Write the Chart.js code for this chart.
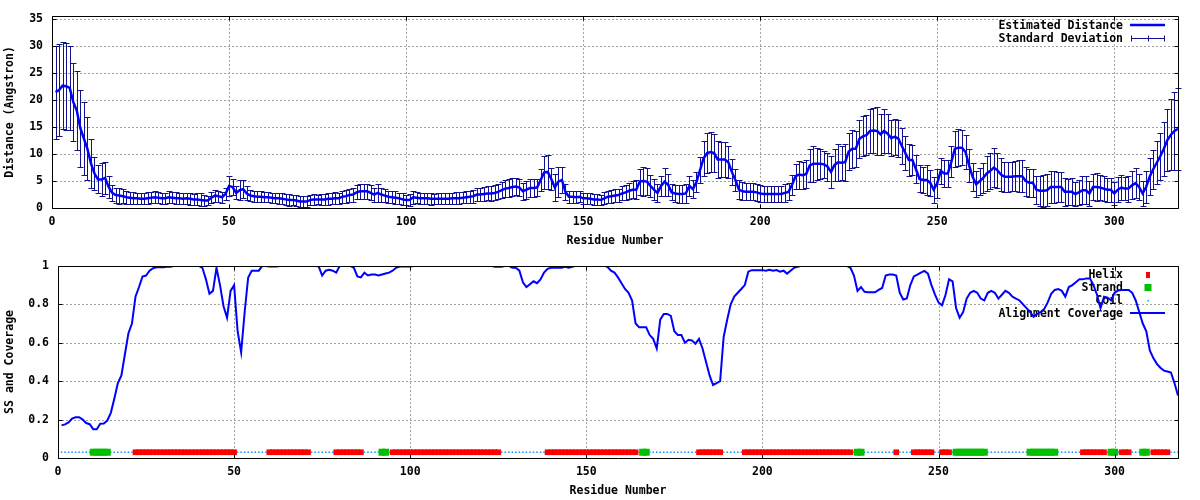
<!DOCTYPE html>
<html>
<head>
<meta charset="utf-8">
<script src="https://cdn.jsdelivr.net/npm/chart.js@4.4.1/dist/chart.umd.min.js"></script>
<style>
  html, body { margin: 0; padding: 0; background: #fff; }
  #wrap { position: relative; width: 1200px; height: 500px; }
  canvas { position: absolute; left: 0; }
  #top { top: 0; }
  #bottom { top: 250px; }
</style>
</head>
<body>
<div id="wrap">
  <canvas id="top" width="1200" height="250"></canvas>
  <canvas id="bottom" width="1200" height="250"></canvas>
</div>
<script>
// residue numbering starts at 1, one value per residue
const firstResidue = 1;

const distance = [
  21.5, 21.9, 22.7, 22.6, 22.3, 19.7, 18.1, 14.8, 12.9, 11.0,
  8.3, 6.4, 5.3, 5.3, 5.6, 3.9, 2.8, 2.4, 2.3, 2.2,
  2.0, 1.9, 1.8, 1.8, 1.7, 1.7, 1.8, 1.9, 2.0, 1.9,
  1.8, 1.8, 2.0, 1.9, 1.8, 1.8, 1.7, 1.8, 1.7, 1.6,
  1.6, 1.5, 1.4, 1.4, 1.9, 2.3, 2.2, 2.0, 2.6, 4.1,
  3.9, 2.8, 3.3, 3.5, 2.7, 2.3, 2.2, 2.1, 2.1, 2.0,
  2.0, 1.9, 1.8, 1.8, 1.7, 1.6, 1.5, 1.5, 1.4, 1.2,
  1.2, 1.2, 1.5, 1.6, 1.6, 1.6, 1.6, 1.7, 1.7, 1.8,
  1.8, 2.1, 2.2, 2.4, 2.5, 2.9, 3.1, 3.1, 3.1, 2.8,
  2.5, 2.8, 2.5, 2.3, 2.1, 2.0, 1.9, 1.8, 1.6, 1.5,
  1.5, 2.0, 1.9, 1.8, 1.8, 1.8, 1.7, 1.7, 1.7, 1.7,
  1.7, 1.7, 1.8, 1.8, 1.8, 1.9, 2.0, 2.1, 2.2, 2.5,
  2.5, 2.6, 2.7, 2.7, 2.8, 3.0, 3.3, 3.6, 3.7, 3.9,
  4.0, 3.8, 3.1, 3.4, 3.7, 3.7, 3.8, 5.2, 6.6, 6.7,
  5.4, 3.8, 4.9, 5.2, 3.0, 2.1, 2.1, 2.0, 2.1, 1.8,
  1.8, 1.7, 1.6, 1.6, 1.5, 1.8, 2.1, 2.2, 2.3, 2.4,
  2.7, 2.9, 3.2, 3.4, 3.4, 4.9, 5.0, 4.9, 4.1, 3.4,
  2.8, 4.1, 4.9, 4.3, 2.9, 2.7, 2.6, 2.6, 2.7, 4.1,
  3.5, 4.8, 7.0, 9.2, 10.2, 10.4, 10.2, 9.0, 9.0, 9.0,
  8.5, 6.7, 5.2, 3.4, 3.1, 3.0, 3.0, 3.0, 2.9, 2.7,
  2.6, 2.6, 2.6, 2.6, 2.6, 2.6, 2.8, 3.0, 4.3, 5.9,
  6.2, 6.1, 6.3, 7.9, 8.2, 8.2, 8.2, 8.1, 7.7, 6.7,
  8.0, 8.5, 8.4, 8.5, 10.5, 11.0, 11.0, 12.8, 13.3, 13.5,
  14.3, 14.4, 14.3, 13.7, 14.3, 13.8, 13.0, 13.2, 12.9, 11.5,
  10.2, 8.9, 8.9, 7.2, 5.4, 5.2, 5.2, 4.7, 3.4, 4.6,
  6.9, 6.4, 6.4, 8.6, 11.0, 11.2, 11.2, 10.4, 7.9, 5.8,
  4.4, 5.0, 5.6, 6.4, 6.9, 7.5, 7.0, 6.2, 5.8, 5.8,
  5.8, 5.9, 5.9, 5.9, 5.0, 4.7, 4.7, 3.4, 3.2, 3.2,
  3.3, 3.9, 3.9, 3.9, 3.9, 3.0, 3.0, 3.0, 2.6, 2.9,
  3.3, 3.3, 2.7, 3.9, 3.9, 3.8, 3.6, 3.4, 3.4, 2.7,
  3.4, 3.8, 3.6, 3.6, 4.2, 4.6, 3.9, 2.7, 3.9, 5.8,
  7.2, 8.4, 9.6, 11.0, 12.6, 13.6, 14.3, 14.7
];

const stdDev = [
  8.6, 8.5, 8.1, 8.1, 7.8, 7.3, 7.3, 7.1, 6.7, 5.8,
  4.5, 3.1, 2.6, 3.0, 3.0, 2.1, 1.5, 1.4, 1.5, 1.3,
  1.2, 1.1, 1.1, 1.0, 1.0, 1.0, 1.1, 1.0, 1.1, 1.0,
  1.0, 1.0, 1.1, 1.0, 1.1, 1.0, 1.0, 1.0, 1.1, 1.0,
  1.1, 1.2, 1.1, 0.9, 1.0, 1.1, 1.0, 1.0, 1.2, 1.8,
  1.5, 1.2, 1.9, 1.7, 1.3, 1.0, 1.0, 1.0, 1.0, 0.9,
  0.9, 0.9, 0.9, 1.0, 1.0, 1.0, 1.1, 0.9, 1.0, 1.0,
  1.1, 1.0, 1.0, 1.0, 0.9, 1.0, 1.0, 1.1, 1.0, 1.1,
  1.0, 1.1, 1.2, 1.2, 1.3, 1.3, 1.4, 1.4, 1.4, 1.4,
  1.3, 1.6, 1.3, 1.2, 1.1, 1.1, 1.2, 1.0, 1.1, 1.0,
  1.1, 1.2, 1.0, 1.0, 1.0, 1.0, 1.1, 0.9, 1.0, 1.0,
  1.0, 1.0, 1.0, 1.1, 1.1, 1.0, 1.1, 1.1, 1.2, 1.2,
  1.2, 1.3, 1.3, 1.4, 1.4, 1.4, 1.5, 1.6, 1.6, 1.6,
  1.5, 1.6, 1.6, 1.7, 1.7, 1.7, 1.6, 2.0, 3.0, 3.1,
  2.0, 2.5, 2.8, 2.4, 1.5, 1.1, 1.1, 1.1, 1.0, 1.0,
  1.0, 1.0, 1.0, 1.0, 1.0, 1.1, 1.1, 1.2, 1.2, 1.2,
  1.3, 1.4, 1.5, 1.6, 1.8, 2.4, 2.7, 2.5, 2.0, 2.0,
  1.7, 1.9, 2.6, 2.0, 1.5, 1.6, 1.6, 1.7, 1.7, 1.8,
  1.7, 1.8, 2.4, 3.2, 3.7, 3.7, 3.5, 3.4, 3.3, 3.3,
  3.0, 2.4, 2.0, 1.8, 1.7, 1.6, 1.6, 1.6, 1.6, 1.5,
  1.5, 1.5, 1.5, 1.4, 1.5, 1.5, 1.6, 1.6, 1.9, 2.3,
  2.6, 2.5, 2.6, 3.0, 3.3, 3.0, 2.8, 2.5, 2.6, 3.0,
  3.0, 3.4, 3.2, 3.4, 3.5, 3.5, 3.3, 3.6, 3.7, 3.7,
  4.0, 4.2, 4.5, 3.8, 4.0, 3.6, 3.4, 3.4, 3.4, 3.3,
  3.1, 2.9, 2.8, 2.6, 2.5, 2.5, 2.7, 2.4, 2.4, 2.7,
  2.4, 2.5, 2.5, 2.9, 3.3, 3.4, 3.3, 3.2, 3.0, 2.6,
  2.4, 2.5, 2.8, 3.2, 3.4, 3.6, 3.3, 3.0, 2.8, 2.8,
  2.7, 2.8, 3.0, 3.0, 2.7, 2.6, 2.6, 2.6, 2.8, 3.0,
  3.0, 3.0, 3.0, 2.8, 2.7, 2.6, 2.4, 2.5, 2.2, 2.3,
  2.6, 2.6, 2.4, 2.5, 2.6, 2.4, 2.3, 2.2, 2.2, 2.2,
  2.3, 2.3, 2.2, 2.4, 2.6, 2.8, 2.5, 2.4, 3.0, 3.4,
  3.6, 4.0, 4.4, 5.0, 5.8, 6.6, 7.3, 7.6
];

const coverage = [
  0.170, 0.175, 0.185, 0.205, 0.212, 0.212, 0.200, 0.182, 0.176, 0.150,
  0.150, 0.178, 0.180, 0.195, 0.235, 0.31, 0.39, 0.43, 0.54, 0.65,
  0.70, 0.84, 0.89, 0.945, 0.95, 0.975, 0.988, 0.993, 0.993, 0.993,
  0.995, 0.995, 1.0, 1.0, 1.0, 1.0, 1.0, 1.0, 1.0, 1.0,
  0.99, 0.93, 0.855, 0.87, 0.99, 0.90, 0.79, 0.73, 0.87, 0.90,
  0.66, 0.55, 0.76, 0.94, 0.975, 0.975, 0.975, 1.0, 1.0, 0.997,
  0.997, 0.997, 1.0, 1.0, 1.0, 1.0, 1.0, 1.0, 1.0, 1.0,
  1.0, 1.0, 1.0, 0.998, 0.95, 0.975, 0.98, 0.975, 0.965, 1.0,
  1.0, 1.0, 1.0, 0.99, 0.945, 0.94, 0.965, 0.95, 0.955, 0.955,
  0.95, 0.955, 0.96, 0.965, 0.975, 0.99, 0.997, 0.997, 0.997, 0.997,
  1.0, 1.0, 1.0, 1.0, 1.0, 1.0, 1.0, 1.0, 1.0, 1.0,
  1.0, 1.0, 1.0, 1.0, 1.0, 1.0, 1.0, 1.0, 1.0, 1.0,
  1.0, 1.0, 1.0, 0.995, 0.995, 0.995, 1.0, 1.0, 0.99, 0.99,
  0.975, 0.915, 0.89, 0.905, 0.92, 0.91, 0.93, 0.965, 0.985, 0.99,
  0.99, 0.99, 0.99, 0.995, 0.99, 0.995, 1.0, 1.0, 1.0, 1.0,
  1.0, 1.0, 1.0, 1.0, 1.0, 0.995, 0.975, 0.965, 0.94, 0.91,
  0.88, 0.86, 0.82, 0.70, 0.68, 0.68, 0.68, 0.64, 0.62, 0.57,
  0.72, 0.75, 0.75, 0.74, 0.66, 0.64, 0.64, 0.60, 0.615, 0.612,
  0.595, 0.62, 0.57, 0.50, 0.43, 0.38, 0.39, 0.40, 0.63, 0.72,
  0.80, 0.84, 0.86, 0.88, 0.90, 0.97, 0.978, 0.978, 0.978, 0.978,
  0.975, 0.98, 0.975, 0.978, 0.97, 0.975, 0.96, 0.975, 0.99, 0.995,
  1.0, 1.0, 1.0, 1.0, 1.0, 1.0, 1.0, 1.0, 1.0, 1.0,
  1.0, 1.0, 1.0, 1.0, 0.99, 0.95, 0.87, 0.89, 0.865, 0.863,
  0.863, 0.863, 0.875, 0.885, 0.95, 0.955, 0.955, 0.95, 0.86, 0.825,
  0.83, 0.90, 0.945, 0.955, 0.965, 0.974, 0.96, 0.90, 0.85, 0.81,
  0.795, 0.85, 0.93, 0.92, 0.78, 0.73, 0.76, 0.83, 0.86, 0.87,
  0.86, 0.83, 0.82, 0.86, 0.87, 0.86, 0.83, 0.85, 0.87, 0.86,
  0.84, 0.83, 0.82, 0.80, 0.78, 0.76, 0.735, 0.75, 0.76, 0.775,
  0.81, 0.855, 0.875, 0.88, 0.87, 0.84, 0.89, 0.90, 0.915, 0.93,
  0.93, 0.935, 0.935, 0.90, 0.85, 0.78, 0.84, 0.835, 0.82, 0.86,
  0.872, 0.875, 0.875, 0.875, 0.86, 0.82, 0.76, 0.70, 0.66, 0.56,
  0.52, 0.49, 0.47, 0.455, 0.45, 0.445, 0.39, 0.325
];

// secondary structure, run-length: [type, count]  H helix, E strand, C coil
const ssRuns = [
  ['C', 9], ['E', 5], ['C', 7], ['H', 29], ['C', 9], ['H', 12], ['C', 7], ['H', 8],
  ['C', 5], ['E', 2], ['C', 1], ['H', 31], ['C', 13], ['H', 26], ['C', 1], ['E', 2],
  ['C', 14], ['H', 7], ['C', 6], ['H', 31], ['C', 1], ['E', 2], ['C', 9], ['H', 1],
  ['C', 4], ['H', 6], ['C', 2], ['H', 3], ['C', 1], ['E', 9], ['C', 12], ['E', 8],
  ['C', 7], ['H', 7], ['C', 1], ['E', 2], ['C', 1], ['H', 3], ['C', 3], ['E', 2],
  ['C', 1], ['H', 5], ['C', 3]
];
const ssLevel = 0.03;

const xMax = 318;
const distMax = 35.66;

const FONT = { family: "'DejaVu Sans Mono', 'Liberation Mono', monospace", size: 11.5, weight: 'bold', lineHeight: 1.2 };
const FONT_CSS = "bold 11.5px 'DejaVu Sans Mono', 'Liberation Mono', monospace";
const BLUE = '#0000ff';
const ERR = '#12128e';
const RED = '#ff0000';
const GREEN = '#00c000';
const COIL = '#1e90ff';
const GRID = '#a0a0a0';

const resOf = i => firstResidue + i;
const ss = ssRuns.map(([t, n]) => t.repeat(n)).join('');
const ssPoints = type => ss.split('').map((t, i) => t === type ? { x: resOf(i), y: ssLevel } : null).filter(Boolean);

// dotted grid + frame with inward ticks, gnuplot style
const gridPlugin = {
  id: 'gpGrid',
  beforeDatasetsDraw(chart) {
    const { ctx, chartArea: a, scales: { x, y } } = chart;
    ctx.save();
    ctx.strokeStyle = GRID;
    ctx.lineWidth = 1;
    ctx.setLineDash([2, 2]);
    ctx.beginPath();
    x.ticks.forEach(t => {
      const px = Math.round(x.getPixelForValue(t.value)) + 0.5;
      if (px <= a.left + 1 || px >= a.right - 1) return;
      ctx.moveTo(px, a.top); ctx.lineTo(px, a.bottom);
    });
    y.ticks.forEach(t => {
      const py = Math.round(y.getPixelForValue(t.value)) + 0.5;
      if (py <= a.top + 1 || py >= a.bottom - 1) return;
      ctx.moveTo(a.left, py); ctx.lineTo(a.right, py);
    });
    ctx.stroke();
    ctx.restore();
  },
  afterDraw(chart) {
    const { ctx, chartArea: a, scales: { x, y } } = chart;
    const L = Math.round(a.left) + 0.5, R = Math.round(a.right) + 0.5;
    const T = Math.round(a.top) + 0.5, B = Math.round(a.bottom) + 0.5;
    ctx.save();
    ctx.strokeStyle = '#000';
    ctx.lineWidth = 1;
    ctx.beginPath();
    ctx.rect(L, T, R - L, B - T);
    x.ticks.forEach(t => {
      const px = Math.round(x.getPixelForValue(t.value)) + 0.5;
      ctx.moveTo(px, B); ctx.lineTo(px, B - 4);
      ctx.moveTo(px, T); ctx.lineTo(px, T + 4);
    });
    y.ticks.forEach(t => {
      const py = Math.round(y.getPixelForValue(t.value)) + 0.5;
      ctx.moveTo(L, py); ctx.lineTo(L + 4, py);
      ctx.moveTo(R, py); ctx.lineTo(R - 4, py);
    });
    ctx.stroke();
    ctx.restore();
  }
};

const errorBarPlugin = {
  id: 'errorBars',
  beforeDatasetsDraw(chart) {
    const { ctx, scales: { x, y } } = chart;
    ctx.save();
    ctx.strokeStyle = ERR;
    ctx.lineWidth = 1;
    ctx.beginPath();
    distance.forEach((d, i) => {
      const px = Math.round(x.getPixelForValue(resOf(i))) + 0.5;
      const lo = Math.round(y.getPixelForValue(d - stdDev[i])) + 0.5;
      const hi = Math.round(y.getPixelForValue(d + stdDev[i])) + 0.5;
      ctx.moveTo(px, lo); ctx.lineTo(px, hi);
      ctx.moveTo(px - 3, lo); ctx.lineTo(px + 3, lo);
      ctx.moveTo(px - 3, hi); ctx.lineTo(px + 3, hi);
    });
    ctx.stroke();
    ctx.restore();
  }
};

const topKey = {
  id: 'topKey',
  afterDatasetsDraw(chart) {
    const ctx = chart.ctx;
    ctx.save();
    ctx.font = FONT_CSS;
    ctx.fillStyle = '#000';
    ctx.textAlign = 'right';
    ctx.textBaseline = 'middle';
    ctx.fillText('Estimated Distance', 1123, 26);
    ctx.fillText('Standard Deviation', 1123, 39);
    ctx.strokeStyle = BLUE;
    ctx.lineWidth = 2.5;
    ctx.beginPath(); ctx.moveTo(1130, 25); ctx.lineTo(1165, 25); ctx.stroke();
    ctx.strokeStyle = ERR;
    ctx.lineWidth = 1;
    ctx.beginPath();
    ctx.moveTo(1131, 38.5); ctx.lineTo(1165, 38.5);
    ctx.moveTo(1131.5, 35.5); ctx.lineTo(1131.5, 41.5);
    ctx.moveTo(1164.5, 35.5); ctx.lineTo(1164.5, 41.5);
    ctx.moveTo(1148.5, 35.5); ctx.lineTo(1148.5, 41.5);
    ctx.stroke();
    ctx.restore();
  }
};

const bottomKey = {
  id: 'bottomKey',
  beforeDatasetsDraw(chart) {
    const ctx = chart.ctx;
    ctx.save();
    ctx.font = FONT_CSS;
    ctx.fillStyle = '#000';
    ctx.textAlign = 'right';
    ctx.textBaseline = 'middle';
    ctx.fillText('Helix', 1123, 25);
    ctx.fillText('Strand', 1123, 38);
    ctx.fillText('Coil', 1123, 51);
    ctx.fillText('Alignment Coverage', 1123, 64);
    ctx.fillStyle = RED;
    ctx.fillRect(1146, 22, 4, 6);
    ctx.fillStyle = GREEN;
    ctx.fillRect(1144.5, 34, 7, 7);
    ctx.fillStyle = COIL;
    ctx.fillRect(1147.5, 50, 1.5, 1.5);
    ctx.strokeStyle = BLUE;
    ctx.lineWidth = 2;
    ctx.beginPath(); ctx.moveTo(1130, 63); ctx.lineTo(1165, 63); ctx.stroke();
    ctx.restore();
  }
};

function xScale() {
  return {
    type: 'linear', min: 0, max: xMax,
    ticks: { stepSize: 50, includeBounds: false, padding: 7, font: FONT, color: '#000', maxRotation: 0 },
    grid: { display: false, drawTicks: false },
    border: { display: false },
    title: { display: true, text: 'Residue Number', font: FONT, color: '#000', padding: { top: 0, bottom: 2.4 } },
    afterFit: s => { s.height = 42; }
  };
}

function yScale(max, step, title, width) {
  return {
    type: 'linear', min: 0, max: max,
    ticks: {
      stepSize: step, includeBounds: false, padding: 9, font: FONT, color: '#000',
      callback: v => String(Number(v.toFixed(2)))
    },
    grid: { display: false, drawTicks: false },
    border: { display: false },
    title: { display: true, text: title, font: FONT, color: '#000', padding: { top: 3.6, bottom: 0 } },
    afterFit: s => { s.width = width; }
  };
}

const baseOpts = {
  responsive: false,
  animation: false,
  devicePixelRatio: 1,
  plugins: { legend: { display: false }, tooltip: { enabled: false } }
};

new Chart(document.getElementById('top'), {
  type: 'scatter',
  data: {
    datasets: [{
      data: distance.map((v, i) => ({ x: resOf(i), y: v })),
      showLine: true,
      borderColor: BLUE,
      borderWidth: 2.5,
      pointRadius: 0,
      tension: 0
    }]
  },
  options: Object.assign({}, baseOpts, {
    layout: { padding: { left: 0, right: 22, top: 14, bottom: 0 } },
    scales: { x: xScale(), y: yScale(distMax, 5, 'Distance (Angstron)', 52) }
  }),
  plugins: [gridPlugin, errorBarPlugin, topKey]
});

new Chart(document.getElementById('bottom'), {
  type: 'scatter',
  data: {
    datasets: [
      {
        data: coverage.map((v, i) => ({ x: resOf(i), y: v })),
        showLine: true, borderColor: BLUE, borderWidth: 2, pointRadius: 0, tension: 0
      },
      {
        data: ssPoints('H'),
        pointStyle: 'rect', pointRadius: 4, pointBorderWidth: 0,
        backgroundColor: RED, borderColor: RED
      },
      {
        data: ssPoints('E'),
        pointStyle: 'rect', pointRadius: 4.95, pointBorderWidth: 0,
        backgroundColor: GREEN, borderColor: GREEN
      },
      {
        data: ssPoints('C'),
        pointStyle: 'rect', pointRadius: 1.1, pointBorderWidth: 0,
        backgroundColor: COIL, borderColor: COIL
      }
    ]
  },
  options: Object.assign({}, baseOpts, {
    layout: { padding: { left: 0, right: 22, top: 13, bottom: 0 } },
    scales: { x: xScale(), y: yScale(1, 0.2, 'SS and Coverage', 58) }
  }),
  plugins: [gridPlugin, bottomKey]
});
</script>
</body>
</html>
